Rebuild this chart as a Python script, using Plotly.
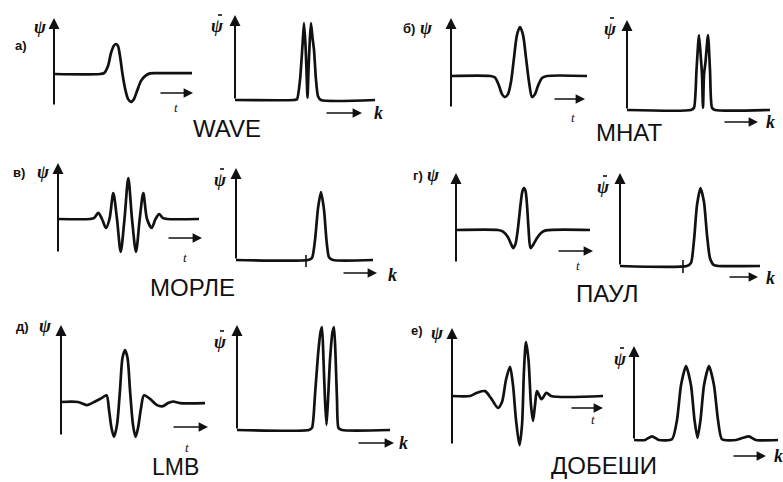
import plotly.graph_objects as go

W, H = 783, 482

# ---------------- DATA ----------------
# а) WAVE
wave_t   = [0, 4.6, 5.0, 5.4, 5.7, 6.0, 6.2, 6.4, 6.6, 6.85, 7.1, 7.4, 7.7, 8.0, 8.3, 8.7, 9.1, 9.6, 10.4, 13.8]
wave_psi = [0, 0, 0.03, 0.27, 0.70, 0.95, 1.0, 0.93, 0.60, 0, -0.47, -0.83, -0.93, -0.83, -0.57, -0.23, -0.07, 0.02, 0.03, 0.03]
wave_k   = [0, 5.9, 6.2, 6.5, 6.75, 6.9, 7.05, 7.15, 7.25, 7.35, 7.48, 7.6, 7.75, 7.9, 8.1, 8.3, 8.6, 14.0]
wave_sp  = [0, 0, 0.01, 0.26, 0.71, 1.0, 0.71, 0.39, 0.03, 0.39, 0.78, 1.0, 0.81, 0.65, 0.26, 0.05, 0, 0]

# б) MHAT
mhat_t   = [0, 3.9, 4.4, 4.8, 5.1, 5.4, 5.7, 6.0, 6.3, 6.6, 6.9, 7.2, 7.5, 7.8, 8.1, 8.4, 8.7, 9.1, 9.6, 13.6]
mhat_psi = [0, 0, -0.03, -0.2, -0.37, -0.43, -0.37, -0.12, 0.37, 0.84, 1.0, 0.84, 0.37, -0.12, -0.43, -0.37, -0.2, -0.04, 0, 0]
mhat_k   = [0, 6.4, 6.7, 6.95, 7.2, 7.4, 7.5, 7.6, 7.7, 7.85, 8.1, 8.3, 8.5, 8.8, 14.3]
mhat_sp  = [0, 0, 0.03, 0.53, 1.0, 0.67, 0.47, 0.03, 0.47, 0.64, 1.0, 0.53, 0.03, 0, 0]

# в) Morlet
morl_t   = [0, 3.2, 3.6, 4.03, 4.4, 4.8, 5.15, 5.53, 5.9, 6.27, 6.65, 7.03, 7.4, 7.8, 8.17, 8.53, 8.9, 9.37, 9.75, 10.13, 10.5, 10.9, 14.1]
morl_psi = [0, 0, 0.02, 0.15, 0, -0.22, 0, 0.63, 0, -0.8, 0, 1.0, 0, -0.8, 0, 0.63, 0, -0.22, 0, 0.12, 0.02, 0, 0]
morl_k   = [0, 7.2, 7.6, 7.9, 8.2, 8.5, 8.8, 9.05, 9.3, 9.7, 13.7]
morl_sp  = [0, 0, 0.03, 0.29, 0.76, 1.0, 0.74, 0.29, 0.04, 0, 0]

# г) Paul
paul_t   = [0, 4.2, 4.7, 5.2, 5.5, 5.73, 5.95, 6.2, 6.45, 6.65, 6.8, 6.95, 7.1, 7.25, 7.45, 7.7, 8.1, 8.5, 9.0, 13.4]
paul_psi = [0, 0, -0.04, -0.17, -0.33, -0.43, -0.33, 0.05, 0.6, 0.93, 1.0, 0.93, 0.6, 0.05, -0.43, -0.36, -0.19, -0.07, -0.01, 0]
paul_k   = [0, 6.7, 7.1, 7.4, 7.7, 8.05, 8.4, 8.7, 9.0, 9.4, 9.8, 14.0]
paul_sp  = [0, 0, 0.04, 0.33, 0.78, 1.0, 0.82, 0.4, 0.1, 0.01, 0, 0]

# д) LMB
lmb_t    = [0, 1.7, 2.6, 3.5, 4.1, 4.55, 4.8, 5.05, 5.3, 5.6, 5.9, 6.15, 6.4, 6.65, 6.9, 7.2, 7.45, 7.7, 8.0, 8.3, 8.9, 9.6, 10.2, 10.7, 11.2, 11.9, 14.4]
lmb_psi  = [0, 0, -0.06, 0.02, 0.08, 0.13, -0.15, -0.5, -0.67, -0.44, 0.23, 0.85, 1.0, 0.85, 0.23, -0.44, -0.67, -0.5, -0.12, 0.13, 0.06, -0.06, -0.08, -0.02, 0.01, -0.02, -0.02]
lmb_k    = [0, 7.2, 7.5, 7.8, 8.1, 8.35, 8.5, 8.65, 8.8, 8.95, 9.1, 9.3, 9.55, 9.7, 9.85, 10.0, 10.15, 10.5, 15.3]
lmb_sp   = [0, 0, 0.02, 0.34, 0.73, 0.95, 1.0, 0.68, 0.29, 0.05, 0.29, 0.68, 0.95, 1.0, 0.73, 0.29, 0.02, 0, 0]

# е) Daubechies
daub_t   = [0, 1.8, 2.5, 3.3, 3.9, 4.6, 5.0, 5.4, 5.8, 6.1, 6.4, 6.75, 7.0, 7.2, 7.4, 7.65, 7.9, 8.1, 8.3, 8.5, 8.95, 9.45, 9.9, 15.1]
daub_psi = [0, 0, 0.06, 0.09, -0.04, -0.22, -0.11, 0.3, 0.54, 0.2, -0.44, -0.91, -0.54, 0.48, 1.0, 0.67, -0.17, -0.46, -0.17, 0.09, -0.06, 0.06, 0, 0]
daub_k   = [0, 1.1, 1.8, 2.5, 3.8, 4.3, 4.7, 5.2, 5.7, 6.05, 6.35, 6.65, 7.0, 7.5, 8.0, 8.4, 8.8, 10.2, 10.9, 11.5, 12.2, 14.4]
daub_sp  = [0, 0, 0.05, 0, 0.01, 0.27, 0.74, 1.0, 0.74, 0.27, 0.03, 0.27, 0.74, 1.0, 0.74, 0.27, 0.01, 0, 0.03, 0.05, 0, 0]

names   = ["WAVE", "МНАТ", "МОРЛЕ", "ПАУЛ", "LMB", "ДОБЕШИ"]
letters = ["а)", "б)", "в)", "г)", "д)", "е)"]

time_series = [(wave_t, wave_psi), (mhat_t, mhat_psi), (morl_t, morl_psi),
               (paul_t, paul_psi), (lmb_t, lmb_psi), (daub_t, daub_psi)]
spec_series = [(wave_k, wave_sp), (mhat_k, mhat_sp), (morl_k, morl_sp),
               (paul_k, paul_sp), (lmb_k, lmb_sp), (daub_k, daub_sp)]

# ---------------- LAYOUT (pixel geometry of each panel) ----------------
# (axis_x, right_x, top_y, bottom_y, base_y, amp)
time_geo = [(54, 192, 18, 106, 74, 30), (451, 587, 18, 108, 76, 49),
            (58, 199, 163, 253, 219, 41), (456, 590, 173, 263, 230, 42),
            (61, 205, 325, 436, 402, 52), (452, 603, 328, 445, 396, 54)]
spec_geo = [(235, 375, 15, 100, 100, 77), (627, 770, 20, 110, 110, 75),
            (236, 373, 168, 260, 260, 68), (620, 760, 173, 266, 266, 78),
            (237, 390, 325, 430, 430, 103), (634, 778, 346, 440, 440, 74)]

# label positions (pixels)
letter_pos = [(21, 45), (409, 28), (19, 172), (418, 175), (22, 326), (417, 330)]
psi_pos    = [(40, 27), (426, 28), (43, 172), (433, 175), (45, 326), (438, 333)]
tarrow     = [(159, 193, 93), (553, 585, 99), (167, 202, 238), (557, 593, 251), (172, 208, 427), (570, 603, 408)]
tlabel     = [(176, 107), (573, 117), (185, 257), (578, 265), (187, 447), (593, 419)]
psih_pos   = [(218, 26), (610, 29), (220, 180), (603, 187), (220, 342), (620, 359)]
karrow     = [(325, 362, 113), (723, 758, 122), (342, 377, 273), (728, 758, 277), (357, 394, 443), (732, 766, 456)]
klabel     = [(378, 113), (770, 122), (392, 275), (770, 278), (403, 443), (778, 456)]
name_pos   = [(227, 129), (629, 132), (192, 287), (607, 293), (175, 467), (604, 465)]
name_size  = [24, 24, 24, 24, 23, 24]
ticks_px   = [(306, 255, 267), (683, 260, 273)]

INK = "#111111"
PAD = 5

fig = go.Figure()
layout_axes = {}
annotations = []
shapes = []


def px(x):
    return x / W


def py(y):
    return 1 - y / H


def add_panel(idx, geo, xs, ys, smooth):
    ax_x, right, top, bot, base, amp = geo
    xl, xr = max(ax_x - PAD, 0), min(right + PAD, W)
    yt, yb = max(top - PAD, 0), min(bot + PAD, H)
    sfx = "" if idx == 1 else str(idx)
    layout_axes["xaxis" + sfx] = dict(domain=[px(xl), px(xr)],
                                      range=[(xl - ax_x) / 10, (xr - ax_x) / 10],
                                      visible=False, fixedrange=True, anchor="y" + sfx)
    layout_axes["yaxis" + sfx] = dict(domain=[py(yb), py(yt)],
                                      range=[(base - yb) / amp, (base - yt) / amp],
                                      visible=False, fixedrange=True, anchor="x" + sfx)
    fig.add_trace(go.Scatter(x=xs, y=ys, mode="lines",
                             line=dict(color=INK, width=2.7, shape="spline", smoothing=smooth),
                             xaxis="x" + sfx, yaxis="y" + sfx,
                             hoverinfo="skip", showlegend=False))
    # vertical axis with arrow
    annotations.append(dict(x=px(ax_x), y=py(top), xref="paper", yref="paper",
                            ax=0, ay=bot - top, axref="pixel", ayref="pixel",
                            text="", showarrow=True, arrowhead=2, arrowsize=1.1,
                            arrowwidth=2.0, arrowcolor=INK, standoff=0, startstandoff=0))


def arrow(x0, x1, y):
    annotations.append(dict(x=px(x1), y=py(y), xref="paper", yref="paper",
                            ax=-(x1 - x0), ay=0, text="", showarrow=True,
                            arrowhead=2, arrowsize=1.1, arrowwidth=1.7, arrowcolor=INK,
                            standoff=0, startstandoff=0))


def label(text, x, y, size, family="Liberation Serif", color=INK):
    annotations.append(dict(x=px(x), y=py(y), xref="paper", yref="paper",
                            text=text, showarrow=False, xanchor="center", yanchor="middle",
                            font=dict(size=size, family=family, color=color)))


n = 1
for i in range(6):
    tx, ty = time_series[i]
    add_panel(n, time_geo[i], tx, ty, 0.8)
    n += 1
    kx, ky = spec_series[i]
    add_panel(n, spec_geo[i], kx, ky, 0.6)
    n += 1

    arrow(*tarrow[i])
    arrow(*karrow[i])
    label(f"<b>{letters[i]}</b>", *letter_pos[i], 13, family="Liberation Sans")
    label("<b><i>ψ</i></b>", *psi_pos[i], 18)
    hx, hy = psih_pos[i]
    label("<b><i>ψ</i></b>", hx, hy, 18)
    # small hat mark above the ψ of the spectrum
    shapes.append(dict(type="line", xref="paper", yref="paper",
                       x0=px(hx), x1=px(hx + 4), y0=py(hy - 11), y1=py(hy - 11),
                       line=dict(color=INK, width=1.6)))
    label("<i>t</i>", *tlabel[i], 13)
    label("<b><i>k</i></b>", *klabel[i], 18)
    label(names[i], *name_pos[i], name_size[i], family="Liberation Sans")

for (xt, y0, y1) in ticks_px:
    shapes.append(dict(type="line", xref="paper", yref="paper",
                       x0=px(xt), x1=px(xt), y0=py(y0), y1=py(y1),
                       line=dict(color=INK, width=1.6)))

fig.update_layout(width=W, height=H, margin=dict(l=0, r=0, t=0, b=0),
                  paper_bgcolor="white", plot_bgcolor="rgba(0,0,0,0)",
                  annotations=annotations, shapes=shapes, **layout_axes)

fig.write_html("out.html", config={"displayModeBar": False},
               post_script="document.body.style.margin='0px';document.body.style.padding='0px';")
